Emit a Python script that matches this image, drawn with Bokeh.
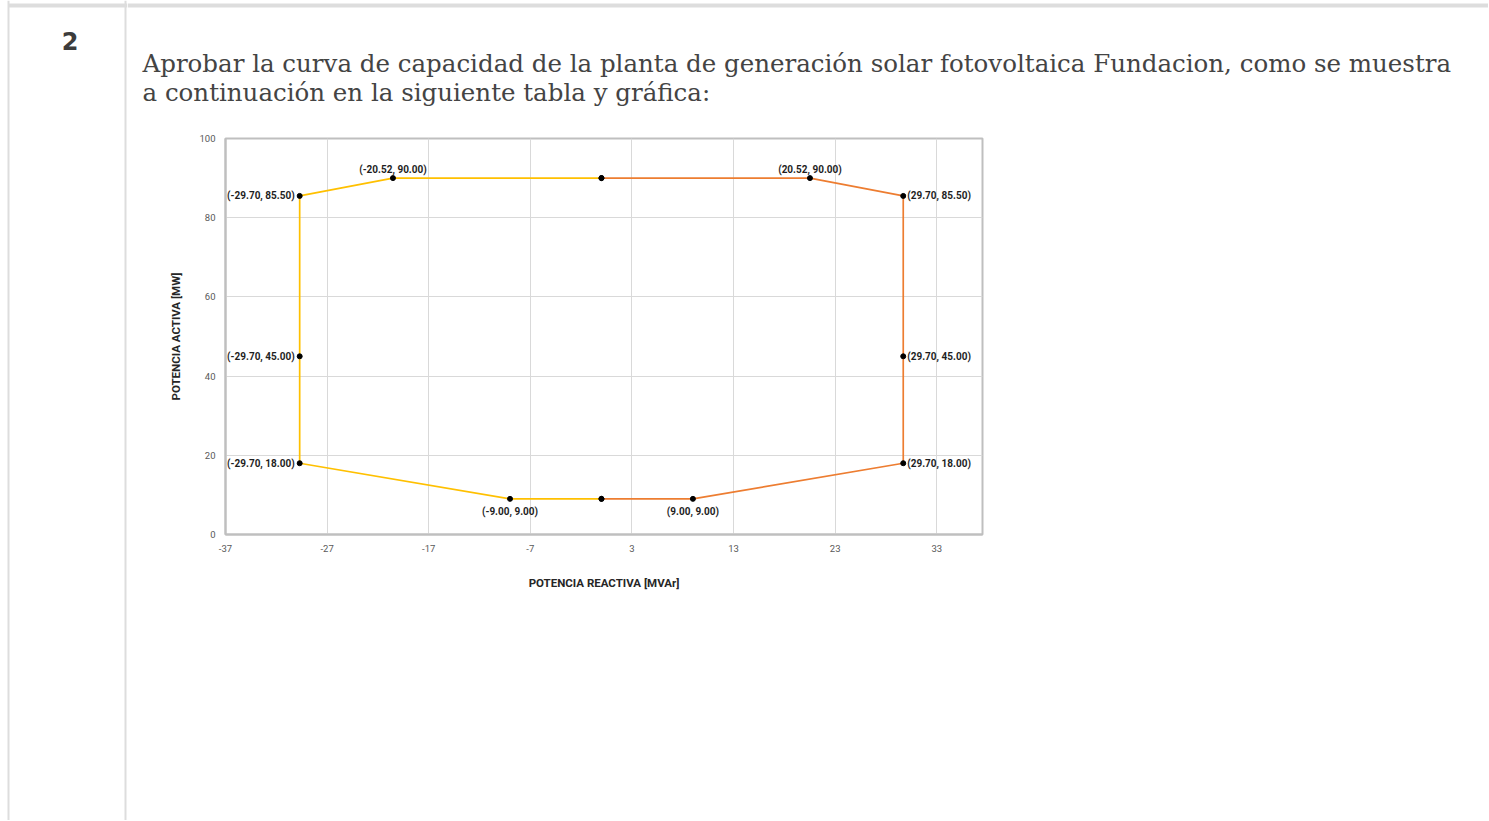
from bokeh.plotting import figure
from bokeh.layouts import column, row
from bokeh.models import Label, FixedTicker, Range1d, ColumnDataSource, Plot
from bokeh.embed import file_html
from bokeh.resources import INLINE
from bokeh.core.properties import value

# ---------------- data ----------------
x_ticks = [-37, -27, -17, -7, 3, 13, 23, 33]
y_ticks = [0, 20, 40, 60, 80, 100]

# capability curve, negative (absorbing) side
neg_q = [0.0, -20.52, -29.70, -29.70, -29.70, -9.00, 0.0]
neg_p = [90.0, 90.00, 85.50, 45.00, 18.00, 9.00, 9.0]
# capability curve, positive (delivering) side
pos_q = [0.0, 20.52, 29.70, 29.70, 29.70, 9.00, 0.0]
pos_p = [90.0, 90.00, 85.50, 45.00, 18.00, 9.00, 9.0]

row_number = "2"
paragraph = [
    "Aprobar la curva de capacidad de la planta de generación solar fotovoltaica Fundacion, como se muestra",
    "a continuación en la siguiente tabla y gráfica:",
]
x_title = "POTENCIA REACTIVA [MVAr]"
y_title = "POTENCIA ACTIVA [MW]"

# ---------------- layout constants (page pixels) ----------------
W, H = 1488, 820          # whole page
HH = 120                  # header band height
LW = 127                  # left (row number) column width
FL, FT, FR, FB = 225, 138, 982, 534   # chart frame edges in page coords
LINE_C = "#dddddd"
HAS_FA = "frame_align" in Plot.properties()


def no_align(f):
    if HAS_FA:
        f.frame_align = False
    return f


def blank(width, height, x0, x1, y0, y1):
    f = figure(width=width, height=height, x_range=Range1d(x0, x1),
               y_range=Range1d(y1, y0), x_axis_type=None, y_axis_type=None,
               output_backend="svg", toolbar_location=None,
               min_border=0, min_border_left=0, min_border_right=0,
               min_border_top=0, min_border_bottom=0)
    f.outline_line_color = None
    f.grid.visible = False
    f.background_fill_color = "white"
    f.border_fill_color = "white"
    return no_align(f)


# ---------------- left column: row number + table borders ----------------
left = blank(LW, H, 0, LW, 0, H)
left.quad(left=[7, 124, 8], right=[9, 126, LW], top=[0, 0, 3], bottom=[H, H, 7],
          fill_color=LINE_C, line_color=None)
left.add_layout(Label(x=69.5, y=40, text=row_number, text_font="DejaVu Sans",
                      text_font_style="bold", text_font_size="24px",
                      text_color="#3c3c3c", text_align="center",
                      text_baseline="middle"))

# ---------------- header band (right cell) ----------------
RW = W - LW
hdr = blank(RW, HH, LW, W, 0, HH)
hdr.quad(left=[LW], right=[W], top=[3], bottom=[7], fill_color=LINE_C, line_color=None)
for i, line in enumerate(paragraph):
    hdr.add_layout(Label(x=142, y=63 + 29 * i, text=line, text_font="DejaVu Serif",
                         text_font_size="24.5px", text_color="#444444",
                         text_align="left", text_baseline="middle"))

# ---------------- chart ----------------
CW, CH = RW, H - HH
mbl = FL - LW
mbt = FT - HH
mbr = CW - mbl - (FR - FL)
mbb = CH - mbt - (FB - FT)

p = figure(
    width=CW, height=CH,
    x_range=Range1d(-37, 37.5), y_range=Range1d(0, 100),
    output_backend="svg", toolbar_location=None,
    min_border_left=mbl, min_border_top=mbt,
    min_border_right=mbr, min_border_bottom=mbb,
    background_fill_color="white", border_fill_color="white",
)
no_align(p)

for ax in (p.xaxis[0], p.yaxis[0]):
    ax.major_tick_line_color = None
    ax.minor_tick_line_color = None
    ax.major_tick_in = 0
    ax.major_tick_out = 0
    ax.minor_tick_out = 0
    ax.axis_line_color = "#bfbfbf"
    ax.axis_line_width = 2
    ax.major_label_text_font = "Roboto"
    ax.major_label_text_font_size = "9.5px"
    ax.major_label_text_color = "#595959"
    ax.axis_label_text_font = "Roboto"
    ax.axis_label_text_font_style = "bold"
    ax.axis_label_text_font_size = "11.5px"
    ax.axis_label_text_color = "#262626"
    ax.major_label_standoff = 10

p.xaxis.ticker = FixedTicker(ticks=x_ticks)
p.yaxis.ticker = FixedTicker(ticks=y_ticks)
p.xaxis.major_label_overrides = {t: str(t) for t in x_ticks}
p.yaxis.major_label_overrides = {t: str(t) for t in y_ticks}
p.xaxis.axis_label = x_title
p.yaxis.axis_label = y_title
p.xaxis.axis_label_standoff = 21
p.yaxis.axis_label_standoff = 13

p.xgrid.grid_line_color = "#d9d9d9"
p.ygrid.grid_line_color = "#d9d9d9"
p.xgrid.ticker = FixedTicker(ticks=x_ticks)
p.ygrid.ticker = FixedTicker(ticks=y_ticks)
p.outline_line_color = "#bfbfbf"
p.outline_line_width = 2

p.line(neg_q, neg_p, line_color="#FFC000", line_width=1.7)
p.line(pos_q, pos_p, line_color="#ED7D31", line_width=1.7)
p.scatter(neg_q + pos_q, neg_p + pos_p, size=5, color="black")


def fmt(q, v):
    return f"({q:.2f}, {v:.2f})"


groups = {"left": [], "right": [], "top": [], "bottom": []}
for q, v in zip(neg_q + pos_q, neg_p + pos_p):
    if q == 0.0:
        continue
    if abs(q) > 25:
        groups["left" if q < 0 else "right"].append((q, v))
    elif v > 50:
        groups["top"].append((q, v))
    else:
        groups["bottom"].append((q, v))

styles = {
    "left": dict(text_align="right", text_baseline="middle", x_offset=-5, y_offset=0),
    "right": dict(text_align="left", text_baseline="middle", x_offset=4, y_offset=0),
    "top": dict(text_align="center", text_baseline="bottom", x_offset=0, y_offset=-3),
    "bottom": dict(text_align="center", text_baseline="top", x_offset=0, y_offset=7),
}
for g, pts in groups.items():
    src = ColumnDataSource(dict(x=[a for a, b in pts], y=[b for a, b in pts],
                                t=[fmt(a, b) for a, b in pts]))
    p.text("x", "y", text="t", source=src, text_font=value("Roboto"),
           text_font_style="bold", text_font_size="10px", text_color="#1f1f1f",
           **styles[g])

layout = row(left, column(hdr, p, spacing=0), spacing=0)

open("out.html", "w").write(file_html(layout, INLINE))
